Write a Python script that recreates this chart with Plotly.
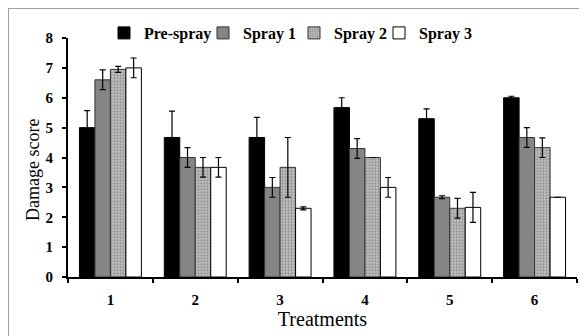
import plotly.graph_objects as go

categories = ["1", "2", "3", "4", "5", "6"]
pre_spray = [5.0, 4.67, 4.67, 5.67, 5.3, 6.0]
pre_err = [0.57, 0.88, 0.67, 0.33, 0.33, 0.05]
spray1 = [6.6, 4.0, 3.0, 4.3, 2.67, 4.67]
spray1_err = [0.33, 0.33, 0.33, 0.33, 0.05, 0.33]
spray2 = [6.95, 3.67, 3.67, 4.0, 2.3, 4.33]
spray2_err = [0.1, 0.33, 1.0, 0.0, 0.33, 0.33]
spray3 = [7.0, 3.67, 2.3, 3.0, 2.33, 2.67]
spray3_err = [0.33, 0.33, 0.05, 0.33, 0.5, 0.0]

FONT = "Liberation Serif"
W, H = 579, 328
ML, MT, PW, PH = 60, 30, 509, 239

def err(vals):
    return dict(type="data", array=vals, visible=True, color="black", thickness=1.2, width=3)

fig = go.Figure()
fig.add_trace(go.Bar(name="Pre-spray", x=categories, y=pre_spray, error_y=err(pre_err),
                     legend="legend",
                     marker=dict(color="black", line=dict(color="black", width=1))))
fig.add_trace(go.Bar(name="Spray 1", x=categories, y=spray1, error_y=err(spray1_err),
                     legend="legend2",
                     marker=dict(color="#858585", line=dict(color="#333333", width=1))))
fig.add_trace(go.Bar(name="Spray 2", x=categories, y=spray2, error_y=err(spray2_err),
                     legend="legend3",
                     marker=dict(color="#c2c2c2", line=dict(color="#333333", width=1),
                                 pattern=dict(shape=".", fgcolor="#666666", bgcolor="#c2c2c2",
                                              size=3, solidity=0.45, fillmode="overlay"))))
fig.add_trace(go.Bar(name="Spray 3", x=categories, y=spray3, error_y=err(spray3_err),
                     legend="legend4",
                     marker=dict(color="white", line=dict(color="black", width=1))))

def leg(text_start_px):
    fx = text_start_px - 8 - 41
    fy = 33 - 8
    return dict(orientation="h", xref="paper", yref="paper",
                x=(fx - ML) / PW, y=1 + (MT - fy) / PH, xanchor="left", yanchor="middle",
                font=dict(family=FONT, size=16, weight="bold"),
                bgcolor="rgba(0,0,0,0)", borderwidth=0)

fig.update_layout(
    width=W, height=H,
    margin=dict(l=ML, r=W - ML - PW, t=MT, b=H - MT - PH, autoexpand=False),
    paper_bgcolor="white", plot_bgcolor="white",
    barmode="group", bargap=0.27, bargroupgap=0,
    font=dict(family=FONT, color="black", size=13),
    showlegend=True,
    legend=leg(145), legend2=leg(244), legend3=leg(335), legend4=leg(420),
    xaxis=dict(type="category", tickson="boundaries", ticks="outside", ticklen=4,
               tickwidth=1.5, tickcolor="black", showline=True, linecolor="black",
               linewidth=2, showgrid=False, automargin=False, ticklabelstandoff=8,
               tickfont=dict(family=FONT, size=15, weight="bold"),
               title=dict(text="Treatments", font=dict(family=FONT, size=20), standoff=3)),
    yaxis=dict(range=[0, 8], dtick=1, ticks="outside", ticklen=4, tickwidth=1.5,
               tickcolor="black", showline=True, linecolor="black", linewidth=2,
               showgrid=False, zeroline=False, automargin=False, ticklabelstandoff=6,
               tickfont=dict(family=FONT, size=15, weight="bold")),
    annotations=[dict(text="Damage score", xref="paper", yref="paper",
                      x=(33 - 8 - ML) / PW, y=1 - (170 - 8 - MT) / PH,
                      xanchor="center", yanchor="middle", textangle=-90, showarrow=False,
                      font=dict(family=FONT, size=18))],
    shapes=[dict(type="rect", xref="paper", yref="paper",
                 x0=(0 - ML) / PW, x1=1.05, y0=-0.4, y1=1 + (MT - 0) / PH,
                 line=dict(color="#a0a0a0", width=2),
                 fillcolor="rgba(0,0,0,0)", layer="below")],
)

fig.write_html("out.html")
